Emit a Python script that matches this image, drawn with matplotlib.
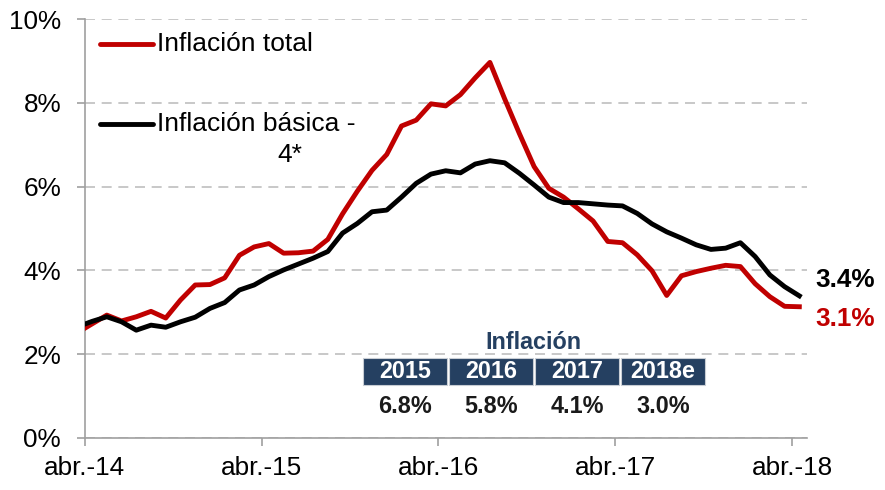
import matplotlib
matplotlib.use("Agg")
import matplotlib.pyplot as plt
import matplotlib.patches as mpatches
import numpy as np

plt.rcParams['font.family'] = ['Liberation Sans', 'DejaVu Sans']

# monthly data, mar-14 .. abr-18
months = ["mar.-14", "abr.-14", "may.-14", "jun.-14", "jul.-14", "ago.-14", "sep.-14", "oct.-14",
          "nov.-14", "dic.-14", "ene.-15", "feb.-15", "mar.-15", "abr.-15", "may.-15", "jun.-15",
          "jul.-15", "ago.-15", "sep.-15", "oct.-15", "nov.-15", "dic.-15", "ene.-16", "feb.-16",
          "mar.-16", "abr.-16", "may.-16", "jun.-16", "jul.-16", "ago.-16", "sep.-16", "oct.-16",
          "nov.-16", "dic.-16", "ene.-17", "feb.-17", "mar.-17", "abr.-17", "may.-17", "jun.-17",
          "jul.-17", "ago.-17", "sep.-17", "oct.-17", "nov.-17", "dic.-17", "ene.-18", "feb.-18",
          "mar.-18", "abr.-18"]

inflacion_total = [2.51, 2.72, 2.93, 2.79, 2.89, 3.02, 2.86, 3.29, 3.65, 3.66,
                   3.82, 4.36, 4.56, 4.64, 4.41, 4.42, 4.46, 4.74, 5.35, 5.89,
                   6.39, 6.77, 7.45, 7.59, 7.98, 7.93, 8.20, 8.60, 8.97, 8.10,
                   7.27, 6.48, 5.96, 5.75, 5.47, 5.18, 4.69, 4.66, 4.37, 3.99,
                   3.40, 3.87, 3.97, 4.05, 4.12, 4.09, 3.68, 3.37, 3.14, 3.13]

inflacion_basica = [2.65, 2.78, 2.89, 2.77, 2.57, 2.69, 2.64, 2.77, 2.88, 3.09,
                    3.23, 3.53, 3.65, 3.85, 4.01, 4.15, 4.29, 4.45, 4.89, 5.12,
                    5.40, 5.44, 5.75, 6.08, 6.30, 6.38, 6.33, 6.54, 6.62, 6.57,
                    6.32, 6.04, 5.75, 5.62, 5.62, 5.59, 5.56, 5.54, 5.36, 5.11,
                    4.92, 4.77, 4.61, 4.50, 4.53, 4.66, 4.33, 3.89, 3.61, 3.39]

tick_labels = ["abr.-14", "abr.-15", "abr.-16", "abr.-17", "abr.-18"]

tabla_years = ["2015", "2016", "2017", "2018e"]
tabla_values = [6.8, 5.8, 4.1, 3.0]

RED = '#C00000'
NAVY = '#254061'
GRID = '#BFBFBF'
AXIS = '#A0A0A0'
FS = 18.8
LW = 3.5

W, H = 885, 490
fig = plt.figure(figsize=(W / 100, H / 100), dpi=100)
fig.patch.set_facecolor('white')


def fx(px):
    return px / W


def fy(py):
    return 1 - py / H


ax = fig.add_axes([fx(84.7), fy(437.7), fx(806.7) - fx(84.7), fy(19.3) - fy(437.7)])

# categories sit between tick marks: abr.-14 is category 0, centre at 0.5
pos = np.arange(len(months)) - 1 + 0.5
ax.plot(pos, inflacion_total, color=RED, lw=LW, solid_joinstyle='round', zorder=3)
ax.plot(pos, inflacion_basica, color='black', lw=LW, solid_joinstyle='round', zorder=4)

ax.set_xlim(0, len(months) - 1)
ax.set_ylim(0, 10)
ax.set_yticks(np.arange(0, 11, 2))
ax.set_yticklabels([f"{v}%" for v in range(0, 11, 2)])
ax.set_xticks([months.index(t) - 1 for t in tick_labels])
ax.set_xticklabels(tick_labels)

ax.yaxis.grid(True, color=GRID, lw=1.2, ls=(0, (6, 4)))
ax.set_axisbelow(True)
for s in ['top', 'right']:
    ax.spines[s].set_visible(False)
for s in ['left', 'bottom']:
    ax.spines[s].set_color(AXIS)
    ax.spines[s].set_linewidth(1.2)
ax.tick_params(axis='y', length=6, width=1.2, color=AXIS, pad=11, labelsize=FS)
ax.tick_params(axis='x', length=5.5, width=1.2, color=AXIS, pad=8, labelsize=FS)

# end-of-series labels
ax.annotate(f"{inflacion_basica[-1]:.1f}%", (pos[-1], inflacion_basica[-1]),
            xytext=(11.5, 11.5), textcoords='offset points', ha='left', va='center',
            fontsize=FS, fontweight='bold', color='black', annotation_clip=False)
ax.annotate(f"{inflacion_total[-1]:.1f}%", (pos[-1], inflacion_total[-1]),
            xytext=(11.5, -9), textcoords='offset points', ha='left', va='center',
            fontsize=FS, fontweight='bold', color=RED, annotation_clip=False)

# legend drawn by hand (Excel style wrapped label)
fig.add_artist(plt.Line2D([fx(100), fx(153)], [fy(44), fy(44)], color=RED, lw=LW,
                          solid_capstyle='round'))
fig.text(fx(157), fy(44), "Inflación total", fontsize=FS + 0.2, va='center', ha='left')
fig.add_artist(plt.Line2D([fx(100), fx(153)], [fy(124), fy(124)], color='black', lw=LW,
                          solid_capstyle='round'))
fig.text(fx(157), fy(124), "Inflación básica -", fontsize=FS + 0.2, va='center', ha='left')
fig.text(fx(290), fy(155), "4*", fontsize=FS + 0.2, va='center', ha='center')

# annual inflation table
fig.text(fx(533), fy(342), "Inflación", fontsize=16.8, fontweight='bold', color=NAVY,
         ha='center', va='center')
box_left = 363.3
box_w = 83.4
box_gap = 2.6
for i, (yr, val) in enumerate(zip(tabla_years, tabla_values)):
    x0 = box_left + i * (box_w + box_gap)
    rect = mpatches.Rectangle((fx(x0), fy(385)), fx(box_w), fy(357.7) - fy(385),
                              transform=fig.transFigure, facecolor=NAVY,
                              edgecolor='#C8CDD4', lw=0.8)
    fig.add_artist(rect)
    fig.text(fx(x0 + box_w / 2), fy(371.5), yr, fontsize=16.8, fontweight='bold',
             color='white', ha='center', va='center')
    fig.text(fx(x0 + box_w / 2), fy(406), f"{val:.1f}%", fontsize=16.8, fontweight='bold',
             color='#1a1a1a', ha='center', va='center')

fig.savefig("out.png", dpi=100, facecolor='white')
